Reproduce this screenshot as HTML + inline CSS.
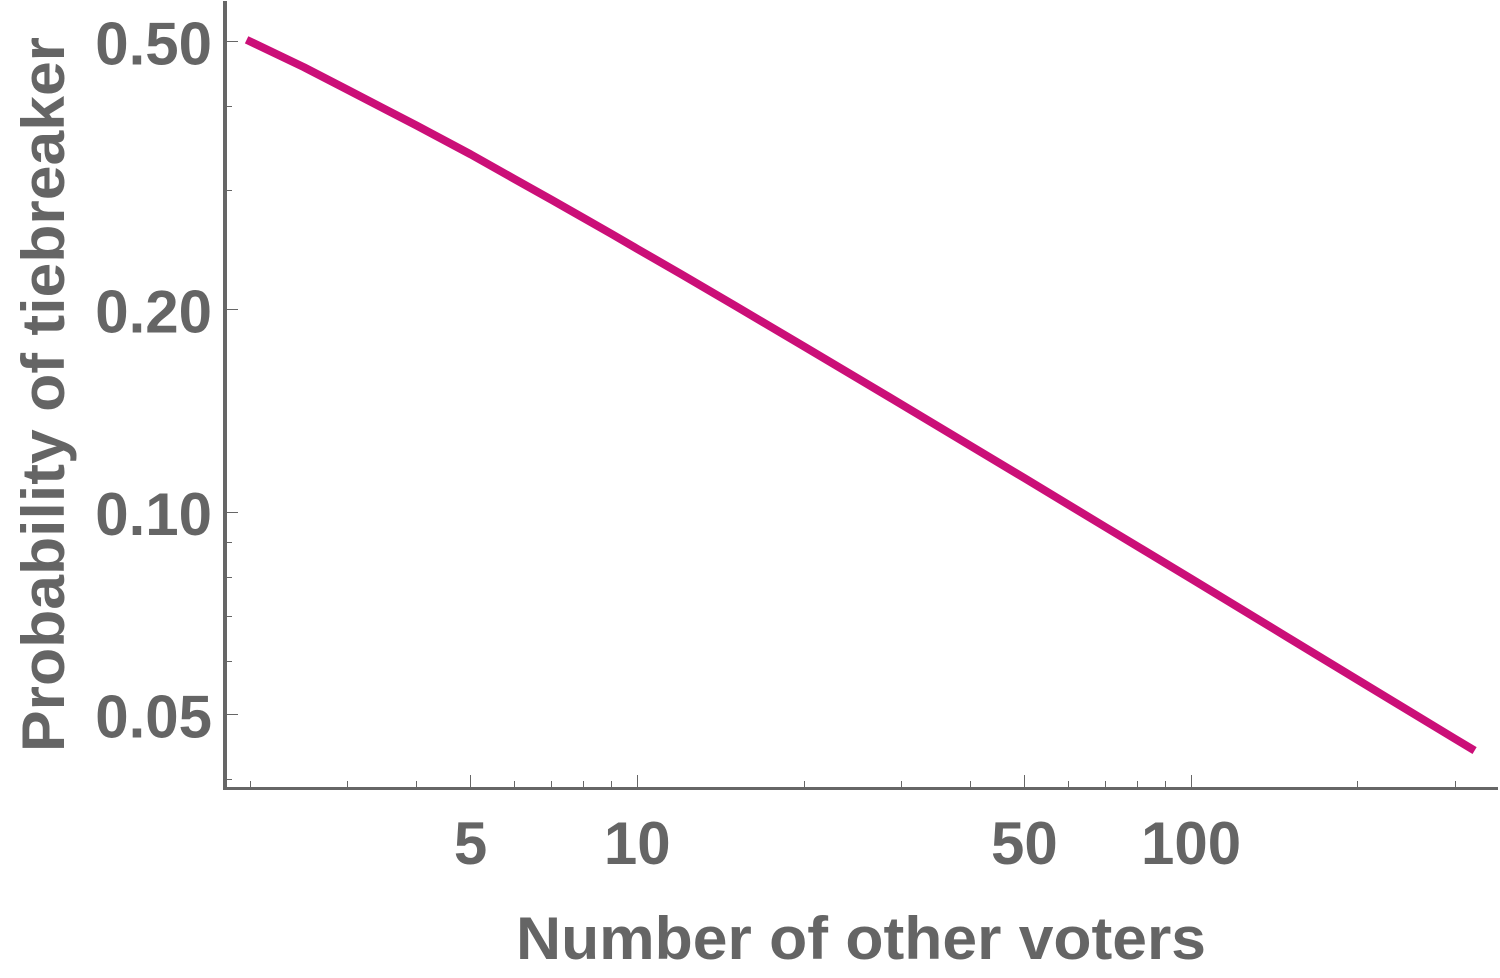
<!DOCTYPE html>
<html lang="en">
<head>
<meta charset="utf-8">
<title>Probability of tiebreaker</title>
<style>
html,body{margin:0;padding:0;background:#fff;}
svg{display:block;}
text{font-family:"Liberation Sans",sans-serif;font-weight:700;fill:#656565;font-size:60px;}
</style>
</head>
<body>
<svg id="chart" xmlns="http://www.w3.org/2000/svg" width="1500" height="978" viewBox="0 0 1500 978">
  <rect x="0" y="0" width="1500" height="978" fill="#ffffff"/>
  <g id="ticks"></g>
  <rect x="223" y="1" width="4" height="789" fill="#666666"/>
  <rect x="223" y="787" width="1275" height="3" fill="#666666"/>
  <g id="labels"></g>
  <path id="curve" fill="none" stroke="#cb0f78" stroke-width="8" stroke-linejoin="round" stroke-linecap="butt"/>
  <text x="516" y="959" textLength="690" lengthAdjust="spacingAndGlyphs">Number of other voters</text>
  <text transform="translate(64 752) rotate(-90)" x="0" y="0" textLength="715" lengthAdjust="spacingAndGlyphs">Probability of tiebreaker</text>
</svg>
<script>
const voters = [1.97, 2.5, 3, 4, 5, 6, 7, 8, 9, 10, 12, 15, 20, 30, 50, 70, 100, 150, 200, 300, 325];
const probability = [0.503, 0.458, 0.424, 0.375, 0.34, 0.3125, 0.291, 0.2734, 0.2587, 0.246, 0.2256, 0.2026, 0.1762, 0.1445, 0.1123, 0.095, 0.0796, 0.065, 0.0563, 0.046, 0.0442];
const xMajorTicks = [5, 10, 50, 100];
const xMajorLabels = ['5', '10', '50', '100'];
const xMinorTicks = [2, 3, 4, 6, 7, 8, 9, 20, 30, 40, 60, 70, 80, 90, 200, 300];
const yMajorTicks = [0.5, 0.2, 0.1, 0.05];
const yMajorLabels = ['0.50', '0.20', '0.10', '0.05'];
const yMinorTicks = [0.4, 0.3, 0.09, 0.08, 0.07, 0.06, 0.04];

const NS = 'http://www.w3.org/2000/svg';
function xScale(n) { return 637.3 + 553.8 * Math.log10(n / 10); }
function yScale(p) { return 512 - 673 * Math.log10(p / 0.1); }

const tickGroup = document.getElementById('ticks');
const labelGroup = document.getElementById('labels');

function addTick(x1, y1, x2, y2, name) {
  const line = document.createElementNS(NS, 'line');
  line.setAttribute('x1', x1);
  line.setAttribute('y1', y1);
  line.setAttribute('x2', x2);
  line.setAttribute('y2', y2);
  line.setAttribute('stroke', '#666666');
  line.setAttribute('stroke-width', '1');
  
  
  tickGroup.appendChild(line);
}

function addLabel(x, y, anchor, str, name) {
  const t = document.createElementNS(NS, 'text');
  t.setAttribute('x', x);
  t.setAttribute('y', y);
  t.setAttribute('text-anchor', anchor);
  t.textContent = str;
  
  
  labelGroup.appendChild(t);
}

xMajorTicks.forEach(function (n, i) {
  const x = Math.floor(xScale(n)) + 0.5;
  addTick(x, 775, x, 787, 'x-major-tick');
  addLabel(xScale(n), 864, 'middle', xMajorLabels[i], 'x-tick-label');
});
xMinorTicks.forEach(function (n) {
  const x = Math.floor(xScale(n)) + 0.5;
  addTick(x, 781, x, 787, 'x-minor-tick');
});
yMajorTicks.forEach(function (p, i) {
  const y = Math.floor(yScale(p)) + 0.5;
  addTick(227, y, 238, y, 'y-major-tick');
  addLabel(212, yScale(p) + 23, 'end', yMajorLabels[i], 'y-tick-label');
});
yMinorTicks.forEach(function (p) {
  const y = Math.floor(yScale(p)) + 0.5;
  addTick(227, y, 232, y, 'y-minor-tick');
});

document.getElementById('curve').setAttribute('d', voters.map(function (n, i) {
  return (i ? 'L' : 'M') + xScale(n).toFixed(1) + ' ' + yScale(probability[i]).toFixed(1);
}).join(' '));
</script>
</body>
</html>
